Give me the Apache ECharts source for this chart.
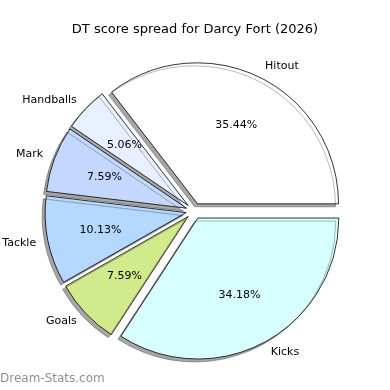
<!DOCTYPE html>
<html>
<head>
<meta charset="utf-8">
<script src="https://cdn.jsdelivr.net/npm/echarts@6/dist/echarts.min.js"></script>
<style>html,body{margin:0;padding:0;background:#fff}#c{width:390px;height:390px}</style>
</head>
<body>
<div id="c"></div>
<script>
const categories = ['Hitout', 'Handballs', 'Mark', 'Tackle', 'Goals', 'Kicks'];
const values = [28, 4, 6, 8, 6, 27];
const colors = ['#ffffff', '#e8f0ff', '#c4d8ff', '#b4d8ff', '#d0ea8c', '#d8ffff'];
const titleText = 'DT score spread for Darcy Fort (2026)';
const watermark = 'Dream-Stats.com';

const total = values.reduce((a, b) => a + b, 0);
const FONT = 'DejaVu Sans';
const CENTER = [194, 211];
const R = 141;
const OFF = 8;

const chart = echarts.init(document.getElementById('c'), null, {renderer: 'canvas'});

const sliceData = categories.map((name, i) => ({
  name, value: values[i], selected: true,
  itemStyle: {color: colors[i]}
}));
const pctData = categories.map((name, i) => ({
  name, value: values[i], selected: true
}));

chart.setOption({
  animation: false,
  backgroundColor: '#ffffff',
  title: {
    text: titleText, left: 'center', top: 18,
    textStyle: {fontFamily: FONT, fontSize: 13, fontWeight: 'normal', color: '#000'}
  },
  graphic: [{
    type: 'text', left: 0, top: 373,
    style: {text: watermark, font: '12px ' + FONT, fill: '#909090'}
  }],
  series: [
    {
      type: 'pie',
      center: CENTER, radius: [0, R],
      startAngle: 0, clockwise: false,
      selectedMode: 'multiple', selectedOffset: OFF,
      avoidLabelOverlap: false,
      emphasis: {disabled: true},
      itemStyle: {
        borderColor: '#000', borderWidth: 0.8,
        shadowColor: 'rgba(0,0,0,0.35)', shadowOffsetX: -3, shadowOffsetY: 3, shadowBlur: 0
      },
      select: {itemStyle: {borderColor: '#000', borderWidth: 0.8}},
      label: {
        show: true, position: 'outside', distanceToLabelLine: 0,
        fontFamily: FONT, fontSize: 11, color: '#000', formatter: '{b}'
      },
      labelLine: {show: false, length: 12, length2: 0},
      data: sliceData
    },
    {
      type: 'pie',
      center: CENTER, radius: [28, R],
      startAngle: 0, clockwise: false,
      selectedMode: 'multiple', selectedOffset: OFF,
      avoidLabelOverlap: false,
      emphasis: {disabled: true},
      silent: true,
      itemStyle: {color: 'rgba(0,0,0,0)', borderWidth: 0},
      select: {itemStyle: {color: 'rgba(0,0,0,0)', borderWidth: 0}},
      label: {
        show: true, position: 'inside',
        fontFamily: FONT, fontSize: 11, color: '#000',
        formatter: p => (p.value / total * 100).toFixed(2) + '%'
      },
      labelLine: {show: false},
      data: pctData
    }
  ]
});
</script>
</body>
</html>
